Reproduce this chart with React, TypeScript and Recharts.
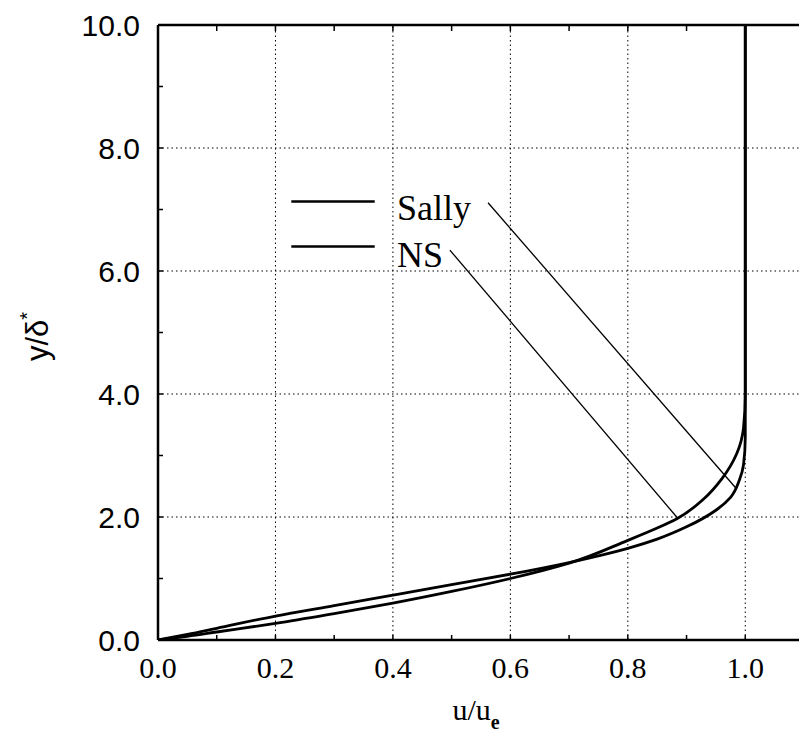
import React from 'react';
import { LineChart, Line, XAxis, YAxis, ReferenceLine, ReferenceDot } from 'recharts';

const sallyU = [0, 0.05, 0.1, 0.2, 0.3, 0.4, 0.5, 0.6, 0.7, 0.8, 0.85, 0.9, 0.95, 0.975, 0.99, 0.997, 1.0, 1.0, 1.0];
const sallyY = [0, 0.09, 0.19, 0.39, 0.56, 0.73, 0.9, 1.07, 1.26, 1.49, 1.64, 1.84, 2.11, 2.32, 2.6, 2.85, 3.3, 4.0, 10.0];
const nsU = [0, 0.05, 0.1, 0.2, 0.3, 0.4, 0.5, 0.6, 0.7, 0.8, 0.85, 0.885, 0.93, 0.96, 0.985, 0.997, 1.0, 1.0];
const nsY = [0, 0.06, 0.13, 0.27, 0.43, 0.6, 0.79, 1.0, 1.25, 1.62, 1.82, 1.98, 2.3, 2.62, 3.02, 3.45, 4.0, 10.0];

const xMajorTicks = [0, 0.2, 0.4, 0.6, 0.8, 1.0];
const xAllTicks = [0, 0.1, 0.2, 0.3, 0.4, 0.5, 0.6, 0.7, 0.8, 0.9, 1.0];
const yMajorTicks = [0, 2, 4, 6, 8, 10];
const yAllTicks = [0, 1, 2, 3, 4, 5, 6, 7, 8, 9, 10];

const legendNames = ['Sally', 'NS'];
const legendSampleY = [7.13, 6.4];
const legendSampleU = [0.227, 0.369];
const legendTextPos = [{ u: 0.407, y: 6.83 }, { u: 0.407, y: 6.07 }];
const pointerStart = [{ u: 0.562, y: 7.11 }, { u: 0.497, y: 6.34 }];
const pointerEnd = [{ u: 0.985, y: 2.46 }, { u: 0.885, y: 1.98 }];

const sallyData = sallyU.map((u, i) => ({ u, y: sallyY[i] }));
const nsData = nsU.map((u, i) => ({ u, y: nsY[i] }));

const SERIF = '"Liberation Serif", "Times New Roman", serif';
const SANS = '"Liberation Sans", Arial, sans-serif';

const isMajor = (list: number[], v: number) => list.some((t) => Math.abs(t - v) < 1e-6);

const XTick = (props: any) => {
  const { x, y, payload } = props;
  const v = payload.value;
  const major = isMajor(xMajorTicks, v);
  return (
    <g>
      <line x1={x} y1={y} x2={x} y2={y - 5} stroke="#000" strokeWidth={1.5} />
      {major && (
        <text x={x} y={y + 38} textAnchor="middle" fontFamily={SERIF} fontSize={30} fill="#000">
          {v.toFixed(1)}
        </text>
      )}
    </g>
  );
};

const TopTick = (props: any) => {
  const { x, y } = props;
  return <line x1={x} y1={y + 1} x2={x} y2={y + 6} stroke="#000" strokeWidth={1.5} />;
};

const YTick = (props: any) => {
  const { x, y, payload } = props;
  const v = payload.value;
  const major = isMajor(yMajorTicks, v);
  return (
    <g>
      <line x1={x} y1={y} x2={x + 5} y2={y} stroke="#000" strokeWidth={1.5} />
      {major && (
        <text x={x - 18} y={y} dy="0.36em" textAnchor="end" fontFamily={SANS} fontSize={30} fill="#000">
          {v.toFixed(1)}
        </text>
      )}
    </g>
  );
};

const XLabel = (props: any) => {
  const vb = props.viewBox || { x: 158, y: 640, width: 646, height: 94 };
  const cx = vb.x + vb.width / 2 - 5;
  return (
    <text x={cx} y={vb.y + 80} textAnchor="middle" fontFamily={SERIF} fontSize={30} fill="#000">
      u/u
      <tspan dy={9} fontSize={20} fontWeight="bold">e</tspan>
    </text>
  );
};

const YLabel = (props: any) => {
  const vb = props.viewBox || { x: 0, y: 25, width: 158, height: 615 };
  const cx = 48;
  const cy = vb.y + vb.height / 2 + 4;
  return (
    <text
      x={cx}
      y={cy}
      transform={`rotate(-90, ${cx}, ${cy})`}
      textAnchor="middle"
      fontFamily={SANS}
      fontSize={31}
      fill="#000"
    >
      y/δ
      <tspan dy={-14} fontSize={20}>*</tspan>
    </text>
  );
};

const makeLegendText = (name: string) => (props: any) => {
  const vb = props.viewBox || { x: 0, y: 0, width: 0, height: 0 };
  const x = vb.x + (vb.width || 0) / 2;
  const y = vb.y + (vb.height || 0) / 2;
  return (
    <text x={x} y={y} textAnchor="start" fontFamily={SERIF} fontSize={36} fill="#000">
      {name}
    </text>
  );
};

export default function App() {
  return (
    <div
      style={{
        position: 'absolute',
        left: 0,
        top: 0,
        width: 799,
        height: 734,
        overflow: 'hidden',
        background: '#fff',
      }}
    >
      <LineChart width={810} height={734} margin={{ top: 24, right: 6, bottom: 0, left: 0 }}>
        <XAxis
          dataKey="u"
          type="number"
          domain={[0, 1.1]}
          ticks={xAllTicks}
          interval={0}
          allowDataOverflow
          height={94}
          tickSize={0}
          tickMargin={0}
          tick={<XTick />}
          axisLine={{ stroke: '#000', strokeWidth: 2.5 }}
          tickLine={false}
          label={<XLabel />}
        />
        <XAxis
          xAxisId="top"
          orientation="top"
          dataKey="u"
          type="number"
          domain={[0, 1.1]}
          ticks={xAllTicks}
          interval={0}
          allowDataOverflow
          height={1}
          tickSize={0}
          tickMargin={0}
          tick={<TopTick />}
          axisLine={false}
          tickLine={false}
        />
        <YAxis
          type="number"
          domain={[0, 10]}
          ticks={yAllTicks}
          interval={0}
          allowDataOverflow
          width={158}
          tickSize={0}
          tickMargin={0}
          tick={<YTick />}
          axisLine={{ stroke: '#000', strokeWidth: 2.5 }}
          tickLine={false}
          label={<YLabel />}
        />
        {xMajorTicks.filter((t) => t > 0).map((t) => (
          <ReferenceLine key={'gx' + t} x={t} stroke="#000" strokeWidth={1} strokeDasharray="1.5 3" />
        ))}
        {yMajorTicks.filter((t) => t > 0 && t < 10).map((t) => (
          <ReferenceLine key={'gy' + t} y={t} stroke="#000" strokeWidth={1} strokeDasharray="1.5 3" />
        ))}
        <ReferenceLine y={10} stroke="#000" strokeWidth={2.5} />
        {legendNames.map((n, i) => (
          <ReferenceLine
            key={'ls' + n}
            segment={[
              { x: legendSampleU[0], y: legendSampleY[i] },
              { x: legendSampleU[1], y: legendSampleY[i] },
            ]}
            stroke="#000"
            strokeWidth={2.5}
          />
        ))}
        {legendNames.map((n, i) => (
          <ReferenceLine
            key={'lp' + n}
            segment={[
              { x: pointerStart[i].u, y: pointerStart[i].y },
              { x: pointerEnd[i].u, y: pointerEnd[i].y },
            ]}
            stroke="#000"
            strokeWidth={1.3}
          />
        ))}
        {legendNames.map((n, i) => (
          <ReferenceDot
            key={'lt' + n}
            x={legendTextPos[i].u}
            y={legendTextPos[i].y}
            r={1}
            fill="none"
            stroke="none"
            label={{ content: makeLegendText(n) } as any}
          />
        ))}
        <Line
          data={sallyData}
          dataKey="y"
          type="monotoneY"
          dot={false}
          stroke="#000"
          strokeWidth={2.8}
          isAnimationActive={false}
        />
        <Line
          data={nsData}
          dataKey="y"
          type="monotoneY"
          dot={false}
          stroke="#000"
          strokeWidth={2.8}
          isAnimationActive={false}
        />
      </LineChart>
    </div>
  );
}
